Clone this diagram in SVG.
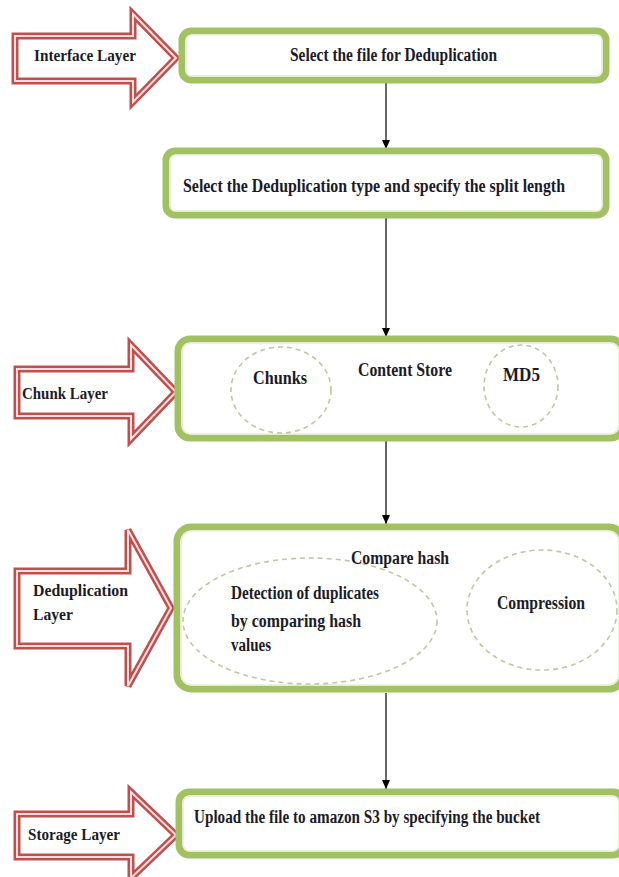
<svg xmlns="http://www.w3.org/2000/svg" width="619" height="877" viewBox="0 0 619 877">
<defs>
<style>
.t{font-family:"Liberation Serif","Times New Roman",serif;font-weight:bold;font-size:18px;fill:#1b1b28}
.l{font-size:16px}
.arrow-o{fill:#fff;stroke:#c0504d;stroke-width:7;stroke-linejoin:miter}
.arrow-i{fill:none;stroke:#f4dede;stroke-width:2;stroke-linejoin:miter}
.box-o{fill:#fff;stroke:#a2c163;stroke-width:7}
.box-i{fill:none;stroke:#e6efd5;stroke-width:1.6}
.ell{fill:none;stroke:#c4c4a6;stroke-width:1.6;stroke-dasharray:5 4}
.conn{stroke:#000;stroke-width:1.2;fill:none}
</style>
<marker id="ah" markerWidth="10" markerHeight="10" refX="9" refY="5" orient="auto" markerUnits="userSpaceOnUse">
<path d="M0,1 L9,5 L0,9 Z" fill="#000"/>
</marker>
</defs>
<rect width="619" height="877" fill="#fff"/>

<g id="connectors">
<line class="conn" x1="386" y1="83" x2="386" y2="149" marker-end="url(#ah)"/>
<line class="conn" x1="386" y1="218" x2="386" y2="337" marker-end="url(#ah)"/>
<line class="conn" x1="386" y1="441" x2="386" y2="524" marker-end="url(#ah)"/>
<line class="conn" x1="386" y1="693" x2="386" y2="789" marker-end="url(#ah)"/>
</g>

<g id="interface-layer">
<polygon class="arrow-o" points="15,36 133,36 133,14 176,58 133,102 133,81 15,81"/>
<polygon class="arrow-i" points="15,36 133,36 133,14 176,58 133,102 133,81 15,81"/>
<text class="t l" x="34" y="61" textLength="102" lengthAdjust="spacingAndGlyphs">Interface Layer</text>
</g>

<g id="select-file">
<rect class="box-o" x="182" y="31" width="424" height="49" rx="9"/>
<rect class="box-i" x="186" y="35" width="416" height="41" rx="6"/>
<text class="t" x="290" y="61" textLength="207" lengthAdjust="spacingAndGlyphs">Select the file for Deduplication</text>
</g>

<g id="select-type">
<rect class="box-o" x="166" y="151" width="440" height="64" rx="9"/>
<rect class="box-i" x="170" y="155" width="432" height="56" rx="6"/>
<text class="t" x="183" y="192" textLength="382" lengthAdjust="spacingAndGlyphs">Select the Deduplication type and specify the split length</text>
</g>

<g id="chunk-layer">
<polygon class="arrow-o" points="17,369 131,369 131,345 176,392 131,439 131,416 17,416"/>
<polygon class="arrow-i" points="17,369 131,369 131,345 176,392 131,439 131,416 17,416"/>
<text class="t l" x="22" y="399" textLength="86" lengthAdjust="spacingAndGlyphs">Chunk Layer</text>
</g>

<g id="content-store">
<rect class="box-o" x="178" y="339" width="445" height="99" rx="12"/>
<rect class="box-i" x="182" y="343" width="437" height="91" rx="9"/>
<ellipse class="ell" cx="281" cy="390" rx="50" ry="43"/>
<ellipse class="ell" cx="521" cy="386" rx="37" ry="41"/>
<text class="t" x="253" y="384" textLength="54" lengthAdjust="spacingAndGlyphs">Chunks</text>
<text class="t" x="358" y="376" textLength="94" lengthAdjust="spacingAndGlyphs">Content Store</text>
<text class="t" x="503" y="381" textLength="37" lengthAdjust="spacingAndGlyphs">MD5</text>
</g>

<g id="deduplication-layer">
<polygon class="arrow-o" points="17,571 128,571 128,530 171,608 128,686 128,646 17,646"/>
<polygon class="arrow-i" points="17,571 128,571 128,530 171,608 128,686 128,646 17,646"/>
<text class="t l" x="33" y="596" textLength="95" lengthAdjust="spacingAndGlyphs">Deduplication</text>
<text class="t l" x="33" y="620" textLength="40" lengthAdjust="spacingAndGlyphs">Layer</text>
</g>

<g id="compare-hash">
<rect class="box-o" x="177" y="527" width="446" height="162" rx="14"/>
<rect class="box-i" x="181" y="531" width="438" height="154" rx="11"/>
<ellipse class="ell" cx="310" cy="621" rx="127" ry="63"/>
<ellipse class="ell" cx="542" cy="610" rx="75" ry="60"/>
<text class="t" x="351" y="564" textLength="98" lengthAdjust="spacingAndGlyphs">Compare hash</text>
<text class="t" x="231" y="599" textLength="148" lengthAdjust="spacingAndGlyphs">Detection of duplicates</text>
<text class="t" x="231" y="627" textLength="130" lengthAdjust="spacingAndGlyphs">by  comparing hash</text>
<text class="t" x="231" y="651" textLength="40" lengthAdjust="spacingAndGlyphs">values</text>
<text class="t" x="497" y="609" textLength="88" lengthAdjust="spacingAndGlyphs">Compression</text>
</g>

<g id="storage-layer">
<polygon class="arrow-o" points="17,814 131,814 131,792 176,835 131,878 131,857 17,857"/>
<polygon class="arrow-i" points="17,814 131,814 131,792 176,835 131,878 131,857 17,857"/>
<text class="t l" x="28" y="840" textLength="92" lengthAdjust="spacingAndGlyphs">Storage Layer</text>
</g>

<g id="upload">
<rect class="box-o" x="179" y="792" width="444" height="63" rx="10"/>
<rect class="box-i" x="183" y="796" width="436" height="55" rx="7"/>
<text class="t" x="194" y="823" textLength="346" lengthAdjust="spacingAndGlyphs">Upload the file to amazon S3 by specifying the bucket</text>
</g>
</svg>
